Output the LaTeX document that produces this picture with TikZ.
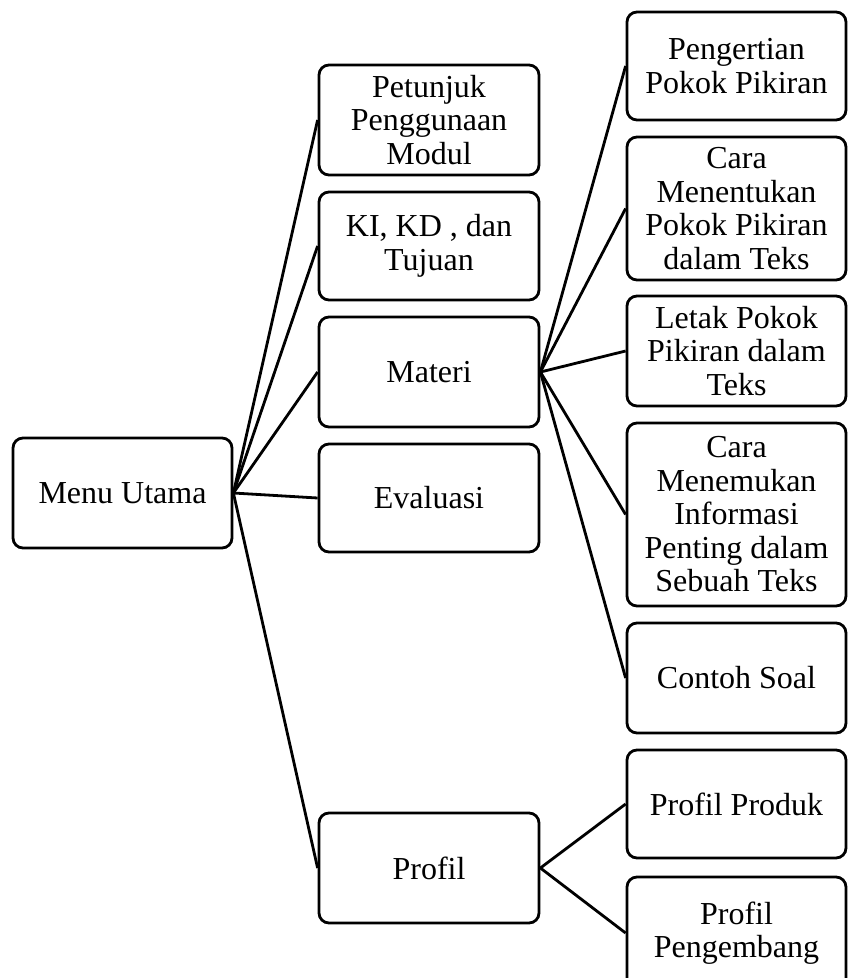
\documentclass[tikz,border=0pt]{standalone}
\usepackage{fontspec}
\setmainfont{Liberation Serif}
\begin{document}
\begin{tikzpicture}[x=1pt,y=-1pt,
  bx/.style={draw, line width=2.8pt, rounded corners=10pt, align=center, inner sep=0pt,
    font=\fontsize{32}{33.5}\selectfont},
  c2/.style={bx, minimum width=220pt},
  c3/.style={bx, minimum width=219pt},
  link/.style={line width=2.8pt}]
\useasboundingbox (0,0) rectangle (854,978);
\clip (0,0) rectangle (854,978);
\node[bx, minimum width=219pt, minimum height=110pt] (menu) at (122.5,493) {Menu Utama};
\node[c2, minimum height=110pt] (pet) at (429,120) {Petunjuk\\Penggunaan\\Modul};
\node[c2, minimum height=108pt] (ki) at (429,246) {KI, KD , dan\\Tujuan};
\node[c2, minimum height=110pt] (mat) at (429,372) {Materi};
\node[c2, minimum height=108pt] (eva) at (429,498) {Evaluasi};
\node[c2, minimum height=110pt] (prof) at (429,868) {Profil};
\node[c3, minimum height=108pt] (pen) at (736.5,66) {Pengertian\\Pokok Pikiran};
\node[c3, minimum height=143pt] (cmt) at (736.5,208.5) {Cara\\Menentukan\\Pokok Pikiran\\dalam Teks};
\node[c3, minimum height=110pt] (let) at (736.5,351) {Letak Pokok\\Pikiran dalam\\Teks};
\node[c3, minimum height=183pt] (cmn) at (736.5,514.5) {Cara\\Menemukan\\Informasi\\Penting dalam\\Sebuah Teks};
\node[c3, minimum height=110pt] (con) at (736.5,678) {Contoh Soal};
\node[c3, minimum height=108pt] (pp) at (736.5,804) {Profil Produk};
\node[c3, minimum height=112pt] (ppg) at (736.5,933) {Profil\\Pengembang};
\foreach \t in {pet,ki,mat,eva,prof} \draw[link] (menu.east) -- (\t.west);
\foreach \t in {pen,cmt,let,cmn,con} \draw[link] (mat.east) -- (\t.west);
\foreach \t in {pp,ppg} \draw[link] (prof.east) -- (\t.west);
\end{tikzpicture}
\end{document}
